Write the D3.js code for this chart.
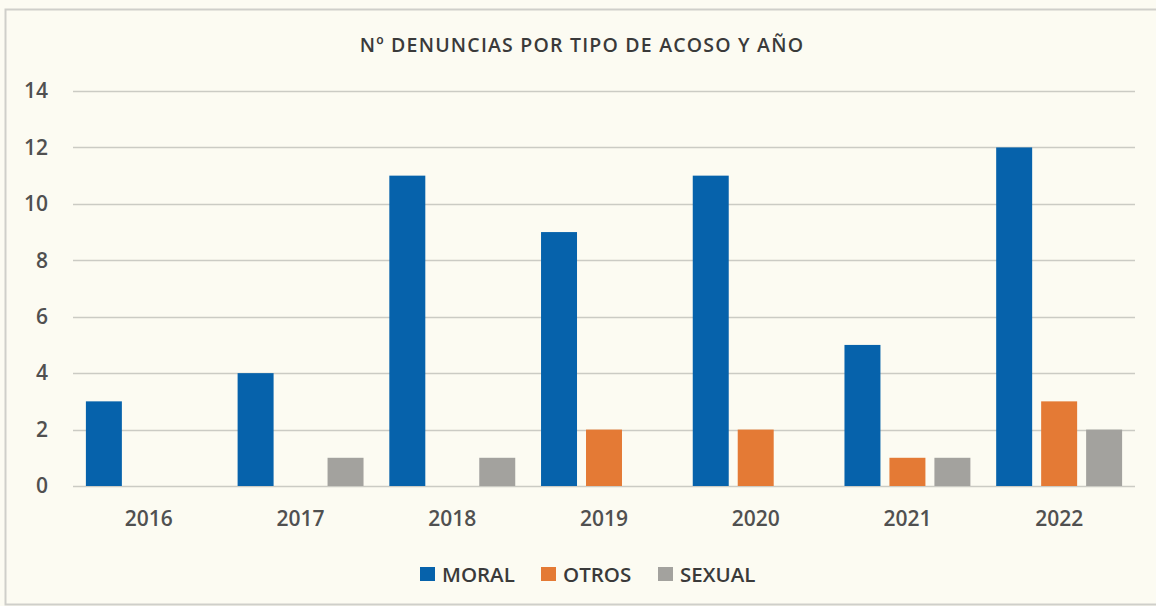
<!DOCTYPE html>
<html><head><meta charset="utf-8">
<script src="https://cdn.jsdelivr.net/npm/d3@7"></script>
<style>
html,body{margin:0;padding:0;background:#fcfbf2;}
svg{display:block;}
text{font-family:"Open Sans",Lato,sans-serif;}
</style></head>
<body><svg id="chart" width="1156" height="606"></svg>
<script>
const years = ["2016","2017","2018","2019","2020","2021","2022"];
const seriesNames = ["MORAL","OTROS","SEXUAL"];
const moral  = [3,4,11,9,11,5,12];
const otros  = [0,0,0,2,2,1,3];
const sexual = [0,1,1,0,0,1,2];
const yTicks = [0,2,4,6,8,10,12,14];
const colors = ["#0662ab","#e47a35","#a3a29e"];
const title = "Nº DENUNCIAS POR TIPO DE ACOSO Y AÑO";

(function(){
const values = [moral, otros, sexual];
const svg = d3.select("#chart");
const W = 1156, H = 606;
const FONT = "'Open Sans',Lato,sans-serif";

svg.append("rect").attr("x",0).attr("y",0).attr("width",W).attr("height",H).attr("fill","#fcfbf2");
svg.append("path").attr("d",`M${W},9.5 H5.5 V604.5 H${W}`).attr("fill","none").attr("stroke","#cfcfca").attr("stroke-width",2);

const mLeft = 73, mRight = 1135, mTop = 91, mBottom = 486;
const y = d3.scaleLinear().domain([0,14]).range([mBottom, mTop]);
const x0 = d3.scaleBand().domain(years).range([mLeft,mRight]).paddingInner(0.17).paddingOuter(0.085);
const x1 = d3.scaleBand().domain(seriesNames).range([0, x0.bandwidth()]).paddingInner(0.2).paddingOuter(0);
const color = d3.scaleOrdinal().domain(seriesNames).range(colors);

svg.append("g").selectAll("line").data(yTicks).join("line")
  .attr("x1",mLeft).attr("x2",mRight)
  .attr("y1",d=>Math.round(y(d))+0.5).attr("y2",d=>Math.round(y(d))+0.5)
  .attr("stroke","#cbcbc4").attr("stroke-width",1.5);

const yAxis = d3.axisLeft(y).tickValues(yTicks).tickSize(0).tickPadding(0);
const gy = svg.append("g").attr("transform",`translate(48,0)`).call(yAxis);
gy.select(".domain").remove();
gy.selectAll("text").attr("font-size",21).attr("font-weight",600).attr("fill","#505050").attr("font-family",FONT);

const groups = svg.append("g").selectAll("g").data(years).join("g")
  .attr("transform",d=>`translate(${x0(d)},0)`);
groups.selectAll("rect").data((d,i)=>seriesNames.map((s,k)=>({s, v: values[k][i]})))
  .join("rect")
  .attr("x",d=>x1(d.s)).attr("width",x1.bandwidth())
  .attr("y",d=>y(d.v)).attr("height",d=>y(0)-y(d.v))
  .attr("fill",d=>color(d.s));

const xAxis = d3.axisBottom(x0).tickSize(0).tickPadding(0);
const gx = svg.append("g").attr("transform",`translate(0,511)`).call(xAxis);
gx.select(".domain").remove();
gx.selectAll("text").attr("font-size",21).attr("font-weight",600).attr("fill","#505050").attr("font-family",FONT);

svg.append("text").attr("x",582).attr("y",52).attr("text-anchor","middle")
  .attr("font-size",19.5).attr("font-weight",600).attr("letter-spacing",1.2).attr("fill","#3a3a3a").text(title);

const legendX = [420, 541, 658];
const lg = svg.append("g").selectAll("g").data(seriesNames).join("g")
  .attr("transform",(d,i)=>`translate(${legendX[i]},567)`);
lg.append("rect").attr("width",15).attr("height",14).attr("fill",d=>color(d));
lg.append("text").attr("x",22).attr("y",14.5).attr("font-size",20.5).attr("font-weight",600).attr("fill","#3a3a3a").text(d=>d);
})();
</script></body></html>
